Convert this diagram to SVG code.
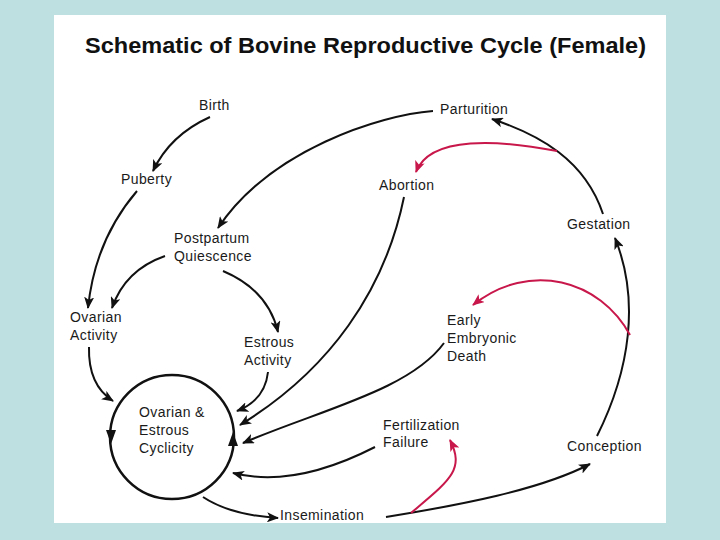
<svg xmlns="http://www.w3.org/2000/svg" width="720" height="540" viewBox="0 0 720 540">
<defs>
<style>
.lbl{font-family:"Liberation Sans",Arial,sans-serif;font-size:14px;fill:#1a1a1a;letter-spacing:0.4px}
.ttl{font-family:"Liberation Sans",Arial,sans-serif;font-size:22px;font-weight:bold;fill:#111}
.c{fill:none;stroke:#111;stroke-width:2}
.r{fill:none;stroke:#c8174a;stroke-width:2}
</style>
<marker id="ah" viewBox="0 0 12 10" refX="11" refY="5" markerWidth="12" markerHeight="10" orient="auto" markerUnits="userSpaceOnUse"><path d="M0,0 L12,5 L0,10 L3,5 z" fill="#111"/></marker>
<marker id="ahr" viewBox="0 0 12 10" refX="11" refY="5" markerWidth="12" markerHeight="10" orient="auto" markerUnits="userSpaceOnUse"><path d="M0,0 L12,5 L0,10 L3,5 z" fill="#c8174a"/></marker>
</defs>
<rect width="720" height="540" fill="#bfe0e1"/>
<rect x="54" y="15" width="612" height="508" fill="#fff"/>
<text class="ttl" x="85" y="53" textLength="561" lengthAdjust="spacingAndGlyphs">Schematic of Bovine Reproductive Cycle (Female)</text>

<g id="connectors">
<path class="c" marker-end="url(#ah)" d="M210,117 Q170,135 153,171"/>
<path class="c" marker-end="url(#ah)" d="M137,191 Q95,240 88,308"/>
<path class="c" marker-end="url(#ah)" d="M433,111 C380,115 270,150 218,228"/>
<path class="c" marker-end="url(#ah)" d="M165,256 Q125,270 112,308"/>
<path class="c" marker-end="url(#ah)" d="M223,271 Q268,290 278,332"/>
<path class="c" marker-end="url(#ah)" d="M89,347 Q88,385 113,401"/>
<path class="c" marker-end="url(#ah)" d="M268,372 Q265,400 237,411"/>
<path class="c" marker-end="url(#ah)" d="M404,197 C385,290 330,370 240,425"/>
<path class="c" marker-end="url(#ah)" d="M444,343 C410,390 320,410 243,443"/>
<path class="c" marker-end="url(#ah)" d="M375,447 C330,470 280,485 233,473"/>
<path class="c" marker-end="url(#ah)" d="M203,497 Q230,515 278,518"/>
<path class="c" marker-end="url(#ah)" d="M386,517 C460,505 540,490 590,464"/>
<path class="c" marker-end="url(#ah)" d="M597,436 C630,370 640,300 615,238"/>
<path class="c" marker-end="url(#ah)" d="M603,214 C585,160 540,135 492,119"/>
<path class="r" marker-end="url(#ahr)" d="M557,151 C500,140 430,135 416,172"/>
<path class="r" marker-end="url(#ahr)" d="M630,335 C600,280 530,260 473,305"/>
<path class="r" marker-end="url(#ahr)" d="M411,513 C450,480 465,470 450,440"/>
</g>

<g id="cyclicity">
<circle cx="172" cy="437" r="62" fill="none" stroke="#111" stroke-width="2.5"/>
<path d="M106,430 L116,430 L111,444 z" fill="#111"/>
<path d="M228,446 L238,446 L233,432 z" fill="#111"/>
<text class="lbl" x="139" y="417">Ovarian &amp;</text>
<text class="lbl" x="139" y="435">Estrous</text>
<text class="lbl" x="139" y="453">Cyclicity</text>
</g>
<g id="birth"><text class="lbl" x="199" y="110">Birth</text></g>
<g id="parturition"><text class="lbl" x="440" y="114">Parturition</text></g>
<g id="puberty"><text class="lbl" x="121" y="184">Puberty</text></g>
<g id="abortion"><text class="lbl" x="379" y="190">Abortion</text></g>
<g id="gestation"><text class="lbl" x="567" y="229">Gestation</text></g>
<g id="postpartum"><text class="lbl" x="174" y="243">Postpartum</text><text class="lbl" x="174" y="261">Quiescence</text></g>
<g id="ovarian-activity"><text class="lbl" x="70" y="322">Ovarian</text><text class="lbl" x="70" y="340">Activity</text></g>
<g id="early-embryonic-death"><text class="lbl" x="447" y="325">Early</text><text class="lbl" x="447" y="343">Embryonic</text><text class="lbl" x="447" y="361">Death</text></g>
<g id="estrous-activity"><text class="lbl" x="244" y="347">Estrous</text><text class="lbl" x="244" y="365">Activity</text></g>
<g id="fertilization-failure"><text class="lbl" x="383" y="430">Fertilization</text><text class="lbl" x="383" y="447">Failure</text></g>
<g id="conception"><text class="lbl" x="567" y="451">Conception</text></g>
<g id="insemination"><text class="lbl" x="280" y="520">Insemination</text></g>
</svg>
